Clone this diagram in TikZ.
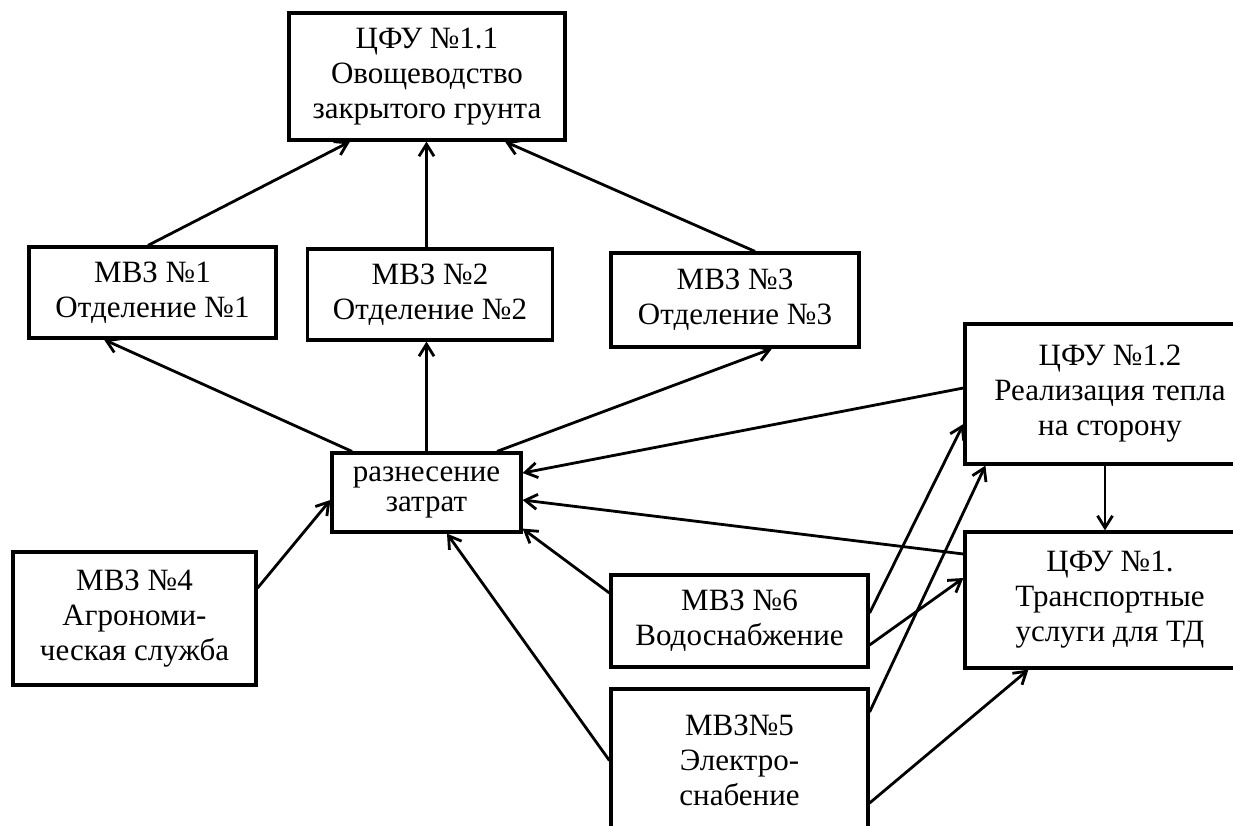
\documentclass[tikz,border=0pt]{standalone}
\usepackage{fontspec}
\setmainfont{Liberation Serif}
\usetikzlibrary{arrows.meta}
\begin{document}
\begin{tikzpicture}[x=1pt,y=-1pt,
  box/.style={draw, line width=3.2pt, align=center, inner sep=0pt,
    font=\fontsize{31}{35}\selectfont},
  link/.style={line width=2.8pt, -{Straight Barb[length=12pt,width=15pt]}}]
\useasboundingbox (0,0) rectangle (1233,825);
\clip (0,0) rectangle (1233,825);

% boxes
\node[box, minimum width=276pt, minimum height=127pt] (A) at (427,76.5)
  {ЦФУ №1.1\\Овощеводство\\закрытого грунта};
\node[box, minimum width=247pt, minimum height=91pt] (B1) at (152.5,292.5)
  {МВЗ №1\\Отделение №1};
\node[box, minimum width=245pt, minimum height=91pt] (B2) at (430,294.5)
  {МВЗ №2\\Отделение №2};
\node[box, minimum width=248pt, minimum height=94pt] (B3) at (735,300)
  {МВЗ №3\\Отделение №3};
\node[box, minimum width=189pt, minimum height=79pt,
  font=\fontsize{31}{30}\selectfont] (C) at (426.5,492.5)
  {разнесение\\затрат};
\node[box, minimum width=243pt, minimum height=133pt] (D4) at (134.5,618.5)
  {МВЗ №4\\Агрономи-\\ческая служба};
\node[box, minimum width=257pt, minimum height=92pt] (D6) at (739.5,621)
  {МВЗ №6\\Водоснабжение};
\node[box, minimum width=257pt, minimum height=143pt] (D5) at (739.5,760.5)
  {МВЗ№5\\Электро-\\снабение};
\node[box, minimum width=290pt, minimum height=140pt] (E12) at (1110,394)
  {ЦФУ №1.2\\Реализация тепла\\на сторону};
\node[box, minimum width=290pt, minimum height=136pt] (E1) at (1110,600)
  {ЦФУ №1.\\Транспортные\\услуги для ТД};

% links up to the greenhouse unit
\draw[link] ([xshift=-4.5pt]B1.north) -- ([xshift=-77pt]A.south);
\draw[link] (C.north |- B2.north) -- (C.north |- A.south);
\draw[link] ([xshift=20pt]B3.north) -- ([xshift=78pt]A.south);

% cost allocation to the departments
\draw[link] ([xshift=-74.5pt]C.north) -- ([xshift=-48.5pt]B1.south);
\draw[link] (C.north) -- (C.north |- B2.south);
\draw[link] ([xshift=70.5pt]C.north) -- ([xshift=37pt]B3.south);

% inputs to cost allocation
\draw[link] ([yshift=6pt]E12.west) -- ([yshift=19.5pt]C.east);
\draw[link] ([yshift=46pt]E1.west) -- ([yshift=-7.5pt]C.east);
\draw[link] ([yshift=28pt]D6.west) -- ([yshift=5pt]C.south east);
\draw[link] (D5.west) -- ([xshift=20.5pt]C.south);
\draw[link] ([yshift=30.5pt]D4.east) -- ([yshift=-7.5pt]C.west);

% services to the right-hand units
\draw[link] ([xshift=-5pt]E12.south) -- ([xshift=-5pt]E1.north);
\draw[link] ([yshift=8pt]D6.east) -- ([yshift=-30pt]E12.west);
\draw[link] ([yshift=-24pt]D6.east) -- ([yshift=22pt]E1.west);
\draw[link] ([yshift=48.5pt]D5.east) -- ([xshift=22pt]E12.south west);
\draw[link] ([yshift=-42.5pt]D5.east) -- ([xshift=65pt]E1.south west);
\end{tikzpicture}
\end{document}
